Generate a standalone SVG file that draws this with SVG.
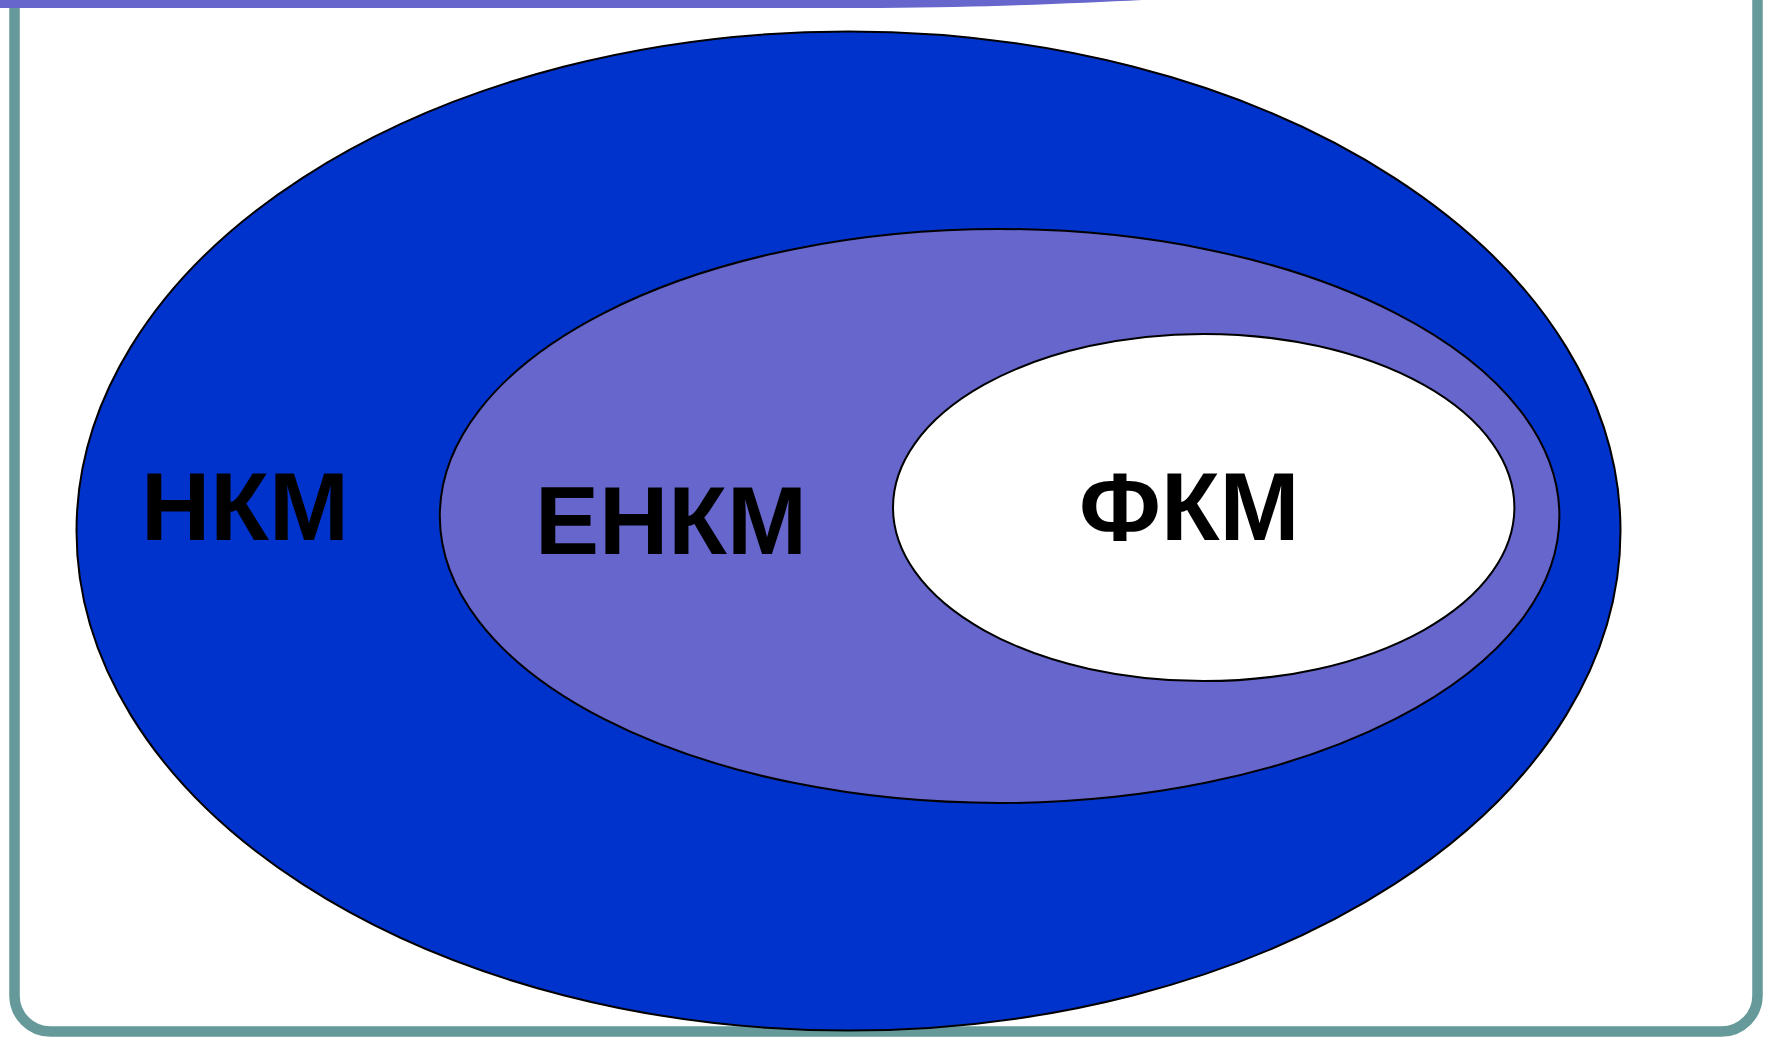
<svg xmlns="http://www.w3.org/2000/svg" width="1768" height="1037" viewBox="0 0 1768 1037">
<style>
.lbl{font-family:"Liberation Sans",Arial,sans-serif;font-weight:bold;font-size:96px;fill:#000}
.ell{stroke:#000;stroke-width:2}
</style>
<rect width="1768" height="1037" fill="#fff"/>
<path d="M14.5 0 V995.5 A36 36 0 0 0 50.5 1031.5 H1721.5 A36 36 0 0 0 1757.5 995.5 V0" fill="none" stroke="#669999" stroke-width="10.5"/>
<path d="M0 0 H1142 C1080 3 1000 7 880 8 H0 Z" fill="#6666cc"/>
<g id="nkm">
<ellipse class="ell" cx="848.5" cy="531" rx="772" ry="499.5" fill="#0033cc"/>
<text class="lbl" x="141" y="540">НКМ</text>
</g>
<g id="enkm">
<ellipse class="ell" cx="999.6" cy="516" rx="559.8" ry="287" fill="#6666cc"/>
<text class="lbl" x="535" y="554">ЕНКМ</text>
</g>
<g id="fkm">
<ellipse class="ell" cx="1203.7" cy="507.5" rx="310.7" ry="173.6" fill="#fff"/>
<text class="lbl" x="1079" y="540">ФКМ</text>
</g>
<g id="connectors"/>
</svg>
